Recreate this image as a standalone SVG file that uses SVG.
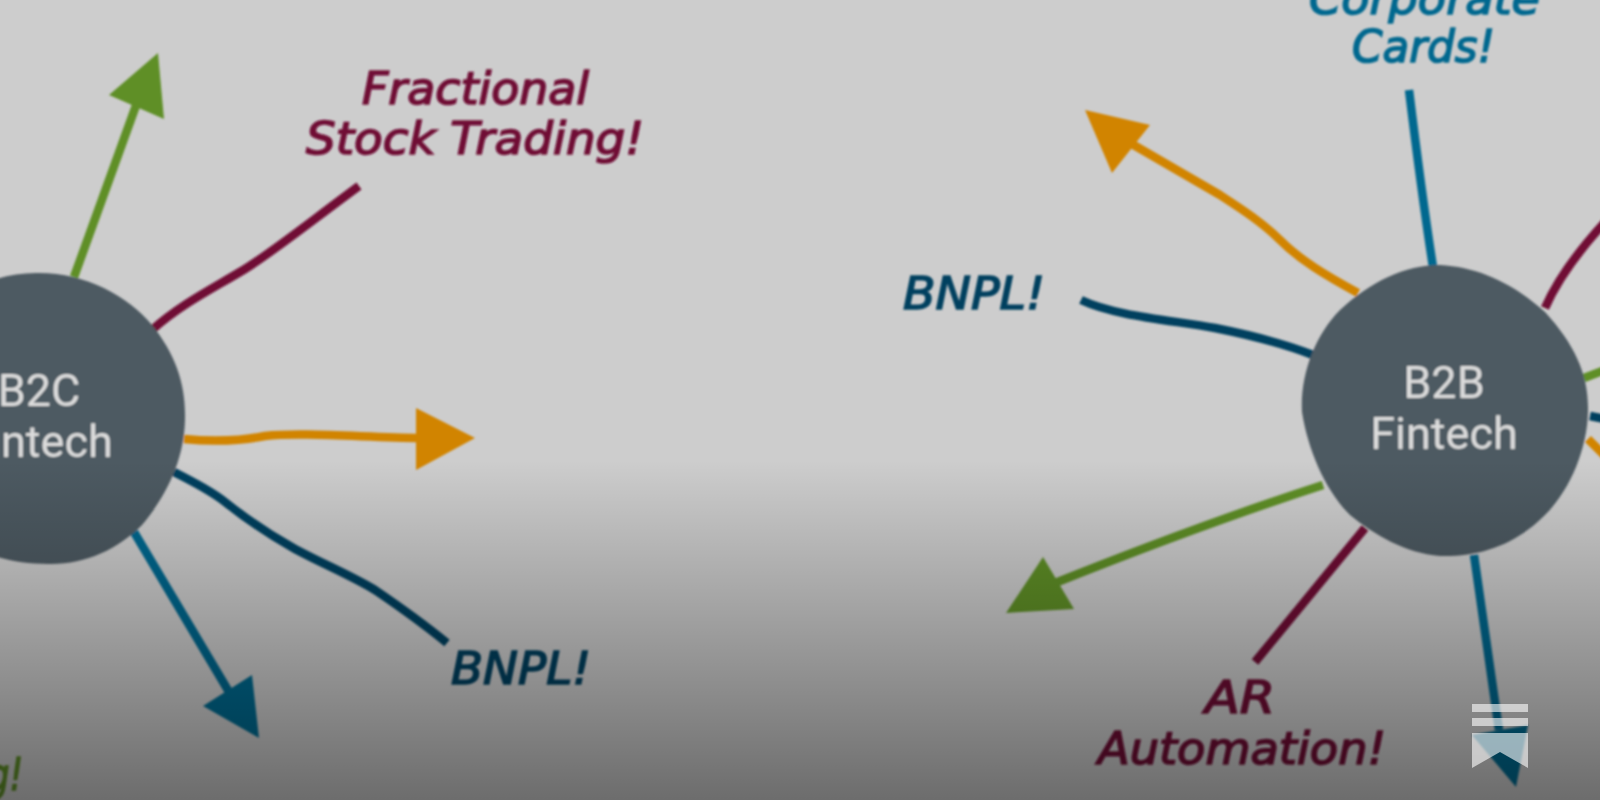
<svg xmlns="http://www.w3.org/2000/svg" width="1600" height="800" viewBox="0 0 1600 800">
<style>
.c{fill:none;stroke-linecap:butt;stroke-linejoin:round;stroke-width:8.5}
.green{stroke:#5f8f28}.maroon{stroke:#700b35}.orange{stroke:#d18400}.navy{stroke:#00405f}.blue{stroke:#05688f}
.node{fill:#4d5a62}
.nt{font-family:Roboto,"Liberation Sans",sans-serif;font-size:45px;fill:#dcdcdc;text-anchor:middle}
.hw{font-family:"DejaVu Sans",sans-serif;font-style:oblique;font-size:44px;stroke-width:1.6px}
.tm{fill:#700b35;stroke:#700b35}.tn{fill:#00405f;stroke:#00405f}.tb{fill:#05688f;stroke:#05688f}.tg{fill:#5f8f28;stroke:#5f8f28}
</style>
<defs>
<linearGradient id="shade" x1="0" y1="0" x2="0" y2="1">
<stop offset="0" stop-color="#000" stop-opacity="0"/>
<stop offset="1" stop-color="#000" stop-opacity=".47"/>
</linearGradient>
<filter id="soft" x="-5%" y="-5%" width="110%" height="110%"><feGaussianBlur stdDeviation="0.9"/></filter>
</defs>
<rect width="1600" height="800" fill="#cdcdcd"/>
<g filter="url(#soft)">
<g id="connectors">
<path class="c green" d="M74 277L138 100"/>
<polygon points="158,53 109,95 164,119" fill="#5f8f28"/>
<path class="c maroon" d="M152 330C180 305 210 290 240 272C265 258 310 222 359 186"/>
<path class="c orange" d="M184 439C215 442 240 441 265 436C300 432 360 437 420 438"/>
<polygon points="416,408 475,438 416,470" fill="#d18400"/>
<path class="c navy" d="M174 472C195 483 210 490 225 502C250 522 270 535 295 549C325 565 350 575 375 590C400 607 425 625 447 643"/>
<path class="c blue" d="M134 532L232 697"/>
<polygon points="252,675 203,706 259,738" fill="#006a90"/>
<path class="c orange" d="M1358 293C1325 275 1300 260 1280 240C1262 222 1240 208 1220 195L1125 140"/>
<polygon points="1085,110 1150,125 1112,173" fill="#d18400"/>
<path class="c blue" d="M1433 267C1428 235 1420 180 1409 90"/>
<path class="c maroon" d="M1545 308C1555 285 1572 258 1605 222"/>
<path class="c navy" d="M1313 355C1280 342 1250 335 1215 328C1170 320 1115 316 1081 300"/>
<path class="c green" d="M1584 378L1613 367"/>
<path class="c navy" d="M1590 416L1605 419"/>
<path class="c orange" d="M1588 439L1605 456"/>
<path class="c green" d="M1323 485Q1200 525 1050 585"/>
<polygon points="1006,613 1043,557 1074,609" fill="#5f8f28"/>
<path class="c maroon" d="M1365 528L1255 662"/>
<path class="c blue" d="M1474 555L1499 730"/>
<polygon points="1472,735 1528,725 1516,787" fill="#006a90"/>
</g>
<g id="node-b2c">
<path class="node" d="M36 273C84 272 127 295 152 325C176 355 186 385 185 420C184 460 167 495 142 525C117 550 84 565 48 564C5 564 -35 550 -65 525C-95 495 -105 460 -105 418C-105 380 -90 340 -60 312C-35 288 0 273 36 273Z"/>
<text class="nt" x="39" y="406">B2C</text>
<text class="nt" x="39" y="457">Fintech</text>
</g>
<g id="node-b2b">
<path class="node" d="M1440 265C1480 267 1515 285 1545 312C1575 345 1589 375 1588 412C1587 450 1570 490 1545 515C1515 545 1480 557 1440 556C1405 553 1375 535 1350 515C1325 490 1308 450 1302 412C1300 375 1315 335 1340 310C1370 282 1405 265 1440 265Z"/>
<text class="nt" x="1444" y="398">B2B</text>
<text class="nt" x="1444" y="449">Fintech</text>
</g>
<g id="labels">
<text class="hw tm" x="362" y="104" textLength="227" lengthAdjust="spacingAndGlyphs">Fractional</text>
<text class="hw tm" x="306" y="154" textLength="338" lengthAdjust="spacingAndGlyphs">Stock Trading!</text>
<text class="hw tn" x="451" y="684" textLength="140" lengthAdjust="spacingAndGlyphs">BNPL!</text>
<text class="hw tg" x="-12" y="790" textLength="35" lengthAdjust="spacingAndGlyphs">g!</text>
<text class="hw tb" x="1309" y="14" textLength="231" lengthAdjust="spacingAndGlyphs">Corporate</text>
<text class="hw tb" x="1352" y="62" textLength="143" lengthAdjust="spacingAndGlyphs">Cards!</text>
<text class="hw tn" x="903" y="309" textLength="142" lengthAdjust="spacingAndGlyphs">BNPL!</text>
<text class="hw tm" x="1205" y="713" textLength="70" lengthAdjust="spacingAndGlyphs">AR</text>
<text class="hw tm" x="1098" y="764" textLength="288" lengthAdjust="spacingAndGlyphs">Automation!</text>
</g>
</g>
<rect x="0" y="460" width="1600" height="340" fill="url(#shade)"/>
<g id="bookmark" fill="#fff" fill-opacity=".6">
<rect x="1472" y="704" width="56" height="8"/>
<rect x="1472" y="718" width="56" height="8"/>
<path d="M1472 733H1528V768L1500 752L1472 768Z"/>
</g>
</svg>
